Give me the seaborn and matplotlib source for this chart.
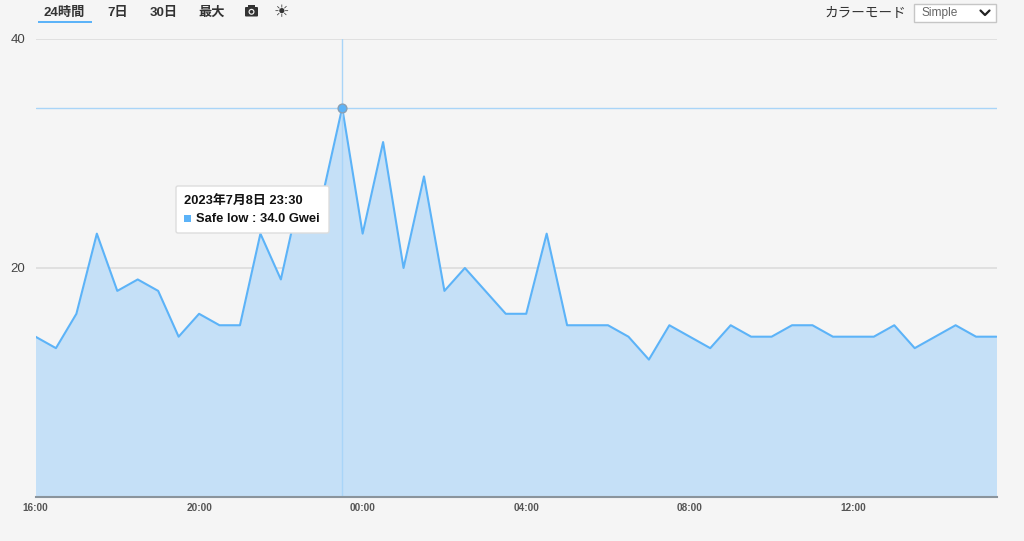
import matplotlib.pyplot as plt
import matplotlib.dates as mdates
from matplotlib.patches import Circle, FancyBboxPatch, Rectangle
import pandas as pd
import seaborn as sns

sns.set_theme(style="white")
plt.rcParams["font.family"] = ["Liberation Sans", "Noto Sans CJK JP", "DejaVu Sans"]

safe_low = [14, 13, 16, 23, 18, 19, 18, 14, 16, 15, 15, 23, 19, 27, 26, 34,
            23, 31, 20, 28, 18, 20, 18, 16, 16, 23, 15, 15, 15, 14, 12, 15,
            14, 13, 15, 14, 14, 15, 15, 14, 14, 14, 15, 13, 14, 15, 14, 14]
times = pd.date_range("2023-07-08 16:00", periods=len(safe_low), freq="30min")
df = pd.DataFrame({"time": times, "safe_low": safe_low})

y_ticks = [20, 40]
x_ticks = ["2023-07-08 16:00", "2023-07-08 20:00", "2023-07-09 00:00",
           "2023-07-09 04:00", "2023-07-09 08:00", "2023-07-09 12:00"]
x_labels = ["16:00", "20:00", "00:00", "04:00", "08:00", "12:00"]
range_buttons = ["24時間", "7日", "30日", "最大"]
button_x = [64.5, 118, 164, 212]
hover_time = pd.Timestamp("2023-07-08 23:30")
hover_value = 34

BG = "#f5f5f5"
BLUE = "#5cb3f8"
W, H = 1024, 541

fig = plt.figure(figsize=(W / 100, H / 100), dpi=100, facecolor=BG)
ax = fig.add_axes([35.5 / W, 1 - 497 / H, 961 / W, 458 / H], facecolor=BG)

ax.fill_between(df["time"], df["safe_low"], color="#c5e0f7", lw=0, zorder=2)
ax.grid(axis="y", color="#dcdcdc", lw=1.2, zorder=3)
sns.lineplot(data=df, x="time", y="safe_low", color=BLUE, lw=1.5, ax=ax, zorder=4)

# crosshair + hovered point
ax.axhline(hover_value, color="#a9d5f8", lw=1, zorder=5)
ax.axvline(hover_time, color="#a9d5f8", lw=1, zorder=5)
sns.scatterplot(x=[hover_time], y=[hover_value], color=BLUE, s=40, edgecolor="#8aa0b4",
                linewidth=1, ax=ax, zorder=6, clip_on=False)

ax.set_xlim(times[0], times[-1])
ax.set_ylim(0, 40)
ax.set_yticks(y_ticks)
ax.set_yticklabels(y_ticks, fontsize=9.5, color="#444444")
ax.set_xticks(mdates.date2num(pd.to_datetime(x_ticks)))
ax.set_xticklabels(x_labels, fontsize=7.2, color="#555555", fontweight="bold")
ax.tick_params(axis="x", length=0, pad=4.5)
ax.tick_params(axis="y", length=0, pad=7.5)
ax.set_xlabel("")
ax.set_ylabel("")
for side in ["top", "left", "right"]:
    ax.spines[side].set_visible(False)
ax.spines["bottom"].set_color("#8a949c")
ax.spines["bottom"].set_linewidth(1.5)
ax.spines["bottom"].set_zorder(7)

# everything outside the data area is placed in pixel coordinates
ui = fig.add_axes([0, 0, 1, 1], facecolor="none")
ui.set_xlim(0, W)
ui.set_ylim(H, 0)
ui.axis("off")

for label, x in zip(range_buttons, button_x):
    ui.text(x, 13, label, ha="center", va="center", fontsize=9.5, fontweight="bold", color="#333333")
ui.add_patch(Rectangle((38, 21), 54, 2, color=BLUE, lw=0))

# camera icon
ui.add_patch(FancyBboxPatch((245, 7), 13, 9.5, boxstyle="round,pad=0,rounding_size=1", color="#333333", lw=0))
ui.add_patch(Rectangle((248, 5), 7, 2.5, color="#333333", lw=0))
ui.add_patch(Circle((251.5, 11.8), 3, color=BG, lw=0))
ui.add_patch(Circle((251.5, 11.8), 1.8, color="#333333", lw=0))
ui.text(281.5, 12.5, "☀", ha="center", va="center", fontsize=12.5, fontweight="bold", color="#333333",
        family="DejaVu Sans")

# colour mode select
ui.text(906.5, 12.5, "カラーモード", ha="right", va="center", fontsize=9.8, color="#333333")
ui.add_patch(Rectangle((913.5, 4), 82, 18, fc="white", ec="#c6c6c6", lw=1))
ui.text(921, 13, "Simple", ha="left", va="center", fontsize=8.6, color="#666666")
ui.plot([980.5, 985, 989.5], [10.5, 15, 10.5], color="#222222", lw=1.6)

# tooltip
ui.add_patch(FancyBboxPatch((176, 186), 153, 47, boxstyle="round,pad=0,rounding_size=2",
                            fc="white", ec="#dddddd", lw=1, zorder=10))
ui.text(184, 201.5, "2023年7月8日 23:30", ha="left", va="center", fontsize=9.3, fontweight="bold",
        color="#111111", zorder=11)
ui.add_patch(Rectangle((184, 215), 6.5, 6.5, color=BLUE, lw=0, zorder=11))
ui.text(196, 218.5, "Safe low : 34.0 Gwei", ha="left", va="center", fontsize=9.3, fontweight="bold",
        color="#111111", zorder=11)

fig.savefig("out.png", dpi=100, facecolor=BG)
